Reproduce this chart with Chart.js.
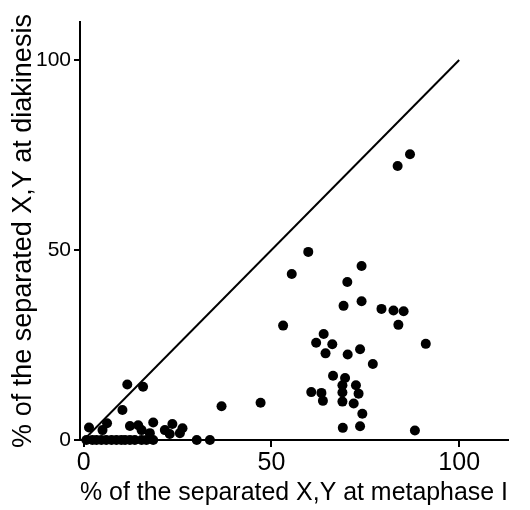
<!DOCTYPE html>
<html>
<head>
<meta charset="utf-8">
<script src="https://cdn.jsdelivr.net/npm/chart.js@4.4.0/dist/chart.umd.min.js"></script>
<style>
  html, body { margin: 0; padding: 0; background: #fff; }
</style>
</head>
<body>
<canvas id="separationChart" width="530" height="510"></canvas>
<script>
// % separated X,Y at metaphase I (x) vs at diakinesis (y)
const metaphaseX = [
  59.8, 55.4, 74.0, 70.2, 69.2, 74.0, 79.3, 82.5, 85.2, 83.8,
  53.1, 91.1, 63.9, 61.9, 66.2, 64.4, 70.3, 73.6, 77.0, 66.4,
  69.6, 68.9, 72.5, 68.9, 73.2, 60.6, 63.3, 63.7, 68.9, 71.9,
  74.2, 69.0, 73.6, 88.2, 86.9, 83.6,
  11.6, 15.8, 10.3, 36.7, 47.1, 6.2, 5.0, 1.4, 12.3, 14.5,
  18.5, 15.4, 17.6, 21.6, 23.6, 26.3, 25.6, 22.9,
  0.7, 2.3, 3.4, 4.7, 6.0, 7.4, 8.7, 10.0, 11.0, 12.3,
  13.6, 15.4, 16.7, 18.5, 30.1, 33.6
];
const diakinesisY = [
  49.5, 43.7, 45.8, 41.6, 35.3, 36.5, 34.5, 34.1, 33.9, 30.3,
  30.1, 25.3, 27.9, 25.6, 25.2, 22.8, 22.5, 23.9, 20.0, 16.9,
  16.3, 14.4, 14.4, 12.5, 12.2, 12.6, 12.4, 10.3, 10.1, 9.6,
  6.9, 3.2, 3.6, 2.5, 75.2, 72.1,
  14.6, 14.0, 7.9, 8.9, 9.8, 4.4, 2.6, 3.3, 3.7, 3.9,
  4.6, 2.6, 1.8, 2.6, 4.2, 3.1, 1.8, 1.6,
  0, 0, 0, 0, 0, 0, 0, 0, 0, 0,
  0, 0, 0, 0, 0, 0
];
// equality line y = x
const lineX = [0, 100];
const lineY = [0, 100];
const xTicks = [0, 50, 100];
const yTicks = [0, 50, 100];

const fontFamily = "'Liberation Sans', Arial, sans-serif";

const points = metaphaseX.map((x, i) => ({ x: x, y: diakinesisY[i] }));
const diagonal = lineX.map((x, i) => ({ x: x, y: lineY[i] }));

const ctx = document.getElementById("separationChart");
new Chart(ctx, {
  type: "scatter",
  data: {
    datasets: [
      {
        type: "line",
        data: diagonal,
        borderColor: "#000",
        borderWidth: 2,
        pointRadius: 0,
        fill: false,
      },
      {
        data: points,
        backgroundColor: "#000",
        borderWidth: 0,
        pointRadius: 5,
        clip: false,
      },
    ],
  },
  options: {
    responsive: false,
    animation: false,
    layout: { padding: { top: 22, right: 22, left: 0, bottom: 0 } },
    plugins: {
      legend: { display: false },
      tooltip: { enabled: false },
    },
    scales: {
      x: {
        type: "linear",
        min: -1,
        max: 113,
        afterBuildTicks: (s) => { s.ticks = xTicks.map((v) => ({ value: v })); },
        afterFit: (s) => { s.height = 70; },
        grid: { display: true, drawOnChartArea: false, drawTicks: true, tickLength: 7, color: "#000", lineWidth: 2 },
        border: { display: true, color: "#000", width: 2 },
        ticks: { color: "#000", padding: 1, maxRotation: 0, font: { family: fontFamily, size: 25 } },
        title: {
          display: true,
          text: "% of the separated X,Y at metaphase I",
          color: "#000",
          padding: { top: 0, bottom: 2 },
          font: { family: fontFamily, size: 26 },
        },
      },
      y: {
        type: "linear",
        min: 0,
        max: 110,
        afterBuildTicks: (s) => { s.ticks = yTicks.map((v) => ({ value: v })); },
        afterFit: (s) => { s.width = 80; },
        grid: { display: true, drawOnChartArea: false, drawTicks: true, tickLength: 6, color: "#000", lineWidth: 2 },
        border: { display: true, color: "#000", width: 2 },
        ticks: { color: "#000", padding: 3, font: { family: fontFamily, size: 21 } },
        title: {
          display: true,
          text: "% of the separated X,Y at diakinesis",
          color: "#000",
          padding: { top: 7, bottom: 0 },
          font: { family: fontFamily, size: 27 },
        },
      },
    },
  },
});
</script>
</body>
</html>
